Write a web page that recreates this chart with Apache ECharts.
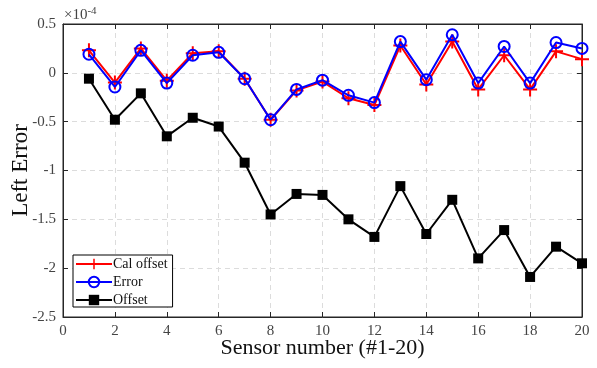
<!DOCTYPE html>
<html>
<head>
<meta charset="utf-8">
<script src="https://cdn.jsdelivr.net/npm/echarts@6/dist/echarts.min.js"></script>
<style>
  html, body { margin: 0; padding: 0; background: #fff; }
  #chart { width: 597px; height: 368px; }
</style>
</head>
<body>
<div id="chart"></div>
<script>
// Sensor indices (#1-20)
const sensors = [1, 2, 3, 4, 5, 6, 7, 8, 9, 10, 11, 12, 13, 14, 15, 16, 17, 18, 19, 20];

// Left error values, in units of 1e-4
const calOffset = [0.23, -0.10, 0.25, -0.08, 0.20, 0.22, -0.06, -0.48, -0.18, -0.09,
                   -0.26, -0.33, 0.28, -0.12, 0.32, -0.17, 0.18, -0.17, 0.22, 0.14];
const errorVals = [0.19, -0.145, 0.23, -0.105, 0.18, 0.21, -0.06, -0.48, -0.17, -0.075,
                   -0.23, -0.305, 0.32, -0.07, 0.39, -0.105, 0.27, -0.105, 0.31, 0.25];
const offsetVals = [-0.06, -0.48, -0.21, -0.65, -0.46, -0.55, -0.92, -1.45, -1.24, -1.25,
                    -1.50, -1.68, -1.16, -1.65, -1.30, -1.90, -1.61, -2.09, -1.78, -1.95];

const xTicks = { min: 0, max: 20, interval: 2 };
const yTicks = { min: -2.5, max: 0.5, interval: 0.5 };

const seriesNames = ['Cal offset', 'Error', 'Offset'];

const pair = vals => sensors.map((s, i) => [s, vals[i]]);

const serif = 'Liberation Serif';
const plusPath = 'path://M-1,-7h2v14h-2z M-7,-1h14v2h-14z';

const gridLine = { show: true, lineStyle: { color: '#dcdcdc', type: [5, 4], width: 1 } };
const frameLine = { show: true, onZero: false, lineStyle: { color: '#262626', width: 1 } };
const innerTick = { show: true, inside: true, length: 5, lineStyle: { color: '#262626' } };

const chart = echarts.init(document.getElementById('chart'), null, { renderer: 'canvas' });

chart.setOption({
  animation: false,
  backgroundColor: '#ffffff',
  grid: {
    left: 63, right: 15, top: 24, bottom: 51,
    containLabel: false,
    outerBoundsMode: 'none',
    show: true, borderColor: '#262626', borderWidth: 1, backgroundColor: 'transparent'
  },
  legend: {
    orient: 'vertical',
    left: 73, top: 255,
    data: seriesNames,
    itemWidth: 36, itemHeight: 13, itemGap: 4,
    padding: [2, 5, 0, 2],
    borderColor: '#000', borderWidth: 1, borderRadius: 0,
    backgroundColor: '#fff',
    textStyle: { fontFamily: serif, fontSize: 14, color: '#111', padding: [0, 0, 0, -4] }
  },
  graphic: [{
    type: 'text',
    left: 64, top: 6,
    style: {
      text: '×10{sup|-4}',
      fontFamily: serif, fontSize: 15, fill: '#444',
      rich: { sup: { fontFamily: serif, fontSize: 11, fill: '#444', verticalAlign: 'top', padding: [0, 0, 8, 0] } }
    }
  }],
  xAxis: [{
    type: 'value',
    min: xTicks.min, max: xTicks.max, interval: xTicks.interval,
    position: 'bottom',
    name: 'Sensor number (#1-20)',
    nameLocation: 'middle', nameGap: 20, nameMoveOverlap: false,
    nameTextStyle: { fontFamily: serif, fontSize: 22, color: '#111', verticalAlign: 'top' },
    axisLine: frameLine,
    axisTick: innerTick,
    axisLabel: { fontFamily: serif, fontSize: 15, color: '#444', margin: 7 },
    splitLine: gridLine
  }, {
    type: 'value',
    min: xTicks.min, max: xTicks.max, interval: xTicks.interval,
    position: 'top',
    axisLine: frameLine,
    axisTick: innerTick,
    axisLabel: { show: false },
    splitLine: { show: false }
  }],
  yAxis: [{
    type: 'value',
    min: yTicks.min, max: yTicks.max, interval: yTicks.interval,
    position: 'left',
    name: 'Left Error',
    nameLocation: 'middle', nameGap: 42, nameMoveOverlap: false,
    nameTextStyle: { fontFamily: serif, fontSize: 23, color: '#111', verticalAlign: 'middle' },
    axisLine: frameLine,
    axisTick: innerTick,
    axisLabel: { fontFamily: serif, fontSize: 15, color: '#444', margin: 7 },
    splitLine: gridLine
  }, {
    type: 'value',
    min: yTicks.min, max: yTicks.max, interval: yTicks.interval,
    position: 'right',
    axisLine: frameLine,
    axisTick: innerTick,
    axisLabel: { show: false },
    splitLine: { show: false }
  }],
  series: [{
    name: seriesNames[0],
    type: 'line',
    data: pair(calOffset),
    symbol: plusPath,
    symbolSize: 14,
    lineStyle: { color: '#ff0000', width: 2 },
    itemStyle: { color: '#ff0000' },
    z: 2
  }, {
    name: seriesNames[1],
    type: 'line',
    data: pair(errorVals),
    symbol: 'circle',
    symbolSize: 11,
    lineStyle: { color: '#0000ff', width: 2 },
    itemStyle: { color: 'rgba(0,0,0,0)', borderColor: '#0000ff', borderWidth: 2 },
    z: 3
  }, {
    name: seriesNames[2],
    type: 'line',
    data: pair(offsetVals),
    symbol: 'rect',
    symbolSize: 10,
    lineStyle: { color: '#000000', width: 2 },
    itemStyle: { color: '#000000' },
    z: 4
  }]
});
</script>
</body>
</html>
